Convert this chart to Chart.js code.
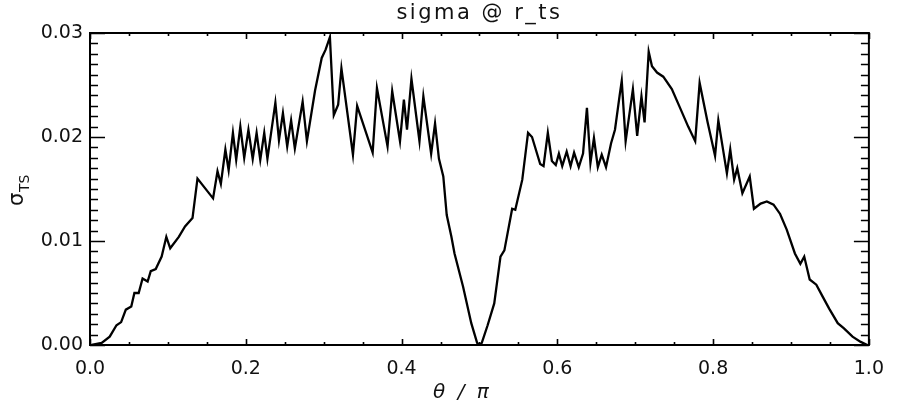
<!DOCTYPE html>
<html>
<head>
<meta charset="utf-8">
<script src="https://cdn.jsdelivr.net/npm/chart.js@4.4.1/dist/chart.umd.min.js"></script>
<style>
  html, body { margin: 0; padding: 0; background: #fff; }
  #wrap { width: 897px; height: 408px; }
</style>
</head>
<body>
<div id="wrap"><canvas id="sigmaChart" width="897" height="408"></canvas></div>
<script>
// theta / pi
const thetaPi = [
  0.002, 0.015, 0.0253, 0.034, 0.040, 0.046, 0.053, 0.057, 0.0625, 0.0675,
  0.074, 0.078, 0.0844, 0.092, 0.098, 0.103, 0.114, 0.122, 0.1316, 0.138,
  0.158, 0.1637, 0.168, 0.1738, 0.178, 0.1835, 0.1877, 0.193, 0.198, 0.2034,
  0.2089, 0.2139, 0.2186, 0.2237, 0.2278, 0.238, 0.2426, 0.2477, 0.2532, 0.2582,
  0.263, 0.273, 0.2785, 0.289, 0.2975, 0.3025, 0.308, 0.313, 0.3186, 0.3228,
  0.3376, 0.343, 0.3629, 0.3684, 0.382, 0.388, 0.398, 0.403, 0.407, 0.4127,
  0.423, 0.428, 0.438, 0.443, 0.448, 0.4536, 0.458, 0.464, 0.468, 0.479,
  0.4895, 0.497, 0.500, 0.503, 0.5105, 0.519, 0.527, 0.532, 0.542, 0.546,
  0.555, 0.5624, 0.5675, 0.578, 0.5823, 0.5878, 0.593, 0.598, 0.602, 0.6063,
  0.612, 0.617, 0.6215, 0.6275, 0.633, 0.638, 0.6425, 0.647, 0.652, 0.657,
  0.6625, 0.669, 0.674, 0.680, 0.6827, 0.6877, 0.697, 0.7025, 0.708, 0.712,
  0.7173, 0.7215, 0.728, 0.736, 0.747, 0.757, 0.768, 0.777, 0.7827, 0.793,
  0.8025, 0.8067, 0.8177, 0.822, 0.827, 0.831, 0.8376, 0.847, 0.8524, 0.861,
  0.869, 0.8776, 0.886, 0.8945, 0.905, 0.912, 0.917, 0.924, 0.9325, 0.941,
  0.949, 0.960, 0.968, 0.979, 0.9895, 0.998
];

// sigma_TS
const sigmaTs = [
  0.0000, 0.0002, 0.0008, 0.0019, 0.0022, 0.0034, 0.0037, 0.0050, 0.0050, 0.0064,
  0.0061, 0.0071, 0.0073, 0.0085, 0.0104, 0.0093, 0.0104, 0.0114, 0.0122, 0.0160,
  0.0141, 0.0167, 0.0155, 0.0188, 0.0168, 0.0204, 0.0178, 0.0210, 0.0180, 0.0207,
  0.0179, 0.0204, 0.0178, 0.0204, 0.0179, 0.0233, 0.0197, 0.0223, 0.0191, 0.0216,
  0.0189, 0.0234, 0.0196, 0.0245, 0.0276, 0.0284, 0.0296, 0.0221, 0.0231, 0.0266,
  0.0183, 0.0230, 0.0185, 0.0247, 0.0191, 0.0244, 0.0196, 0.0236, 0.0207, 0.0256,
  0.0196, 0.0239, 0.0184, 0.0213, 0.0179, 0.0162, 0.0125, 0.0104, 0.0088, 0.0056,
  0.0021, 0.0002, 0.0000, 0.0002, 0.0019, 0.0040, 0.0085, 0.0091, 0.0131, 0.0130,
  0.0159, 0.0204, 0.0200, 0.0174, 0.0172, 0.0204, 0.0177, 0.0173, 0.0184, 0.0172,
  0.0186, 0.0172, 0.0185, 0.0171, 0.0184, 0.0228, 0.0175, 0.0199, 0.0171, 0.0183,
  0.0171, 0.0194, 0.0207, 0.0240, 0.0254, 0.0196, 0.0246, 0.0201, 0.0239, 0.0214,
  0.0282, 0.0268, 0.0262, 0.0258, 0.0246, 0.0229, 0.0210, 0.0196, 0.0252, 0.0214,
  0.0182, 0.0216, 0.0165, 0.0188, 0.0159, 0.0170, 0.0146, 0.0162, 0.0131, 0.0136,
  0.0138, 0.0135, 0.0126, 0.0111, 0.0088, 0.0078, 0.0085, 0.0063, 0.0058, 0.0046,
  0.0035, 0.0021, 0.0016, 0.0008, 0.0003, 0.0000
];

const xTicks = [0.0, 0.2, 0.4, 0.6, 0.8, 1.0];
const yTicks = [0.00, 0.01, 0.02, 0.03];

const points = thetaPi.map((t, i) => ({ x: t, y: sigmaTs[i] }));

const FONT = '"DejaVu Sans", sans-serif';

// box, inward ticks on all four sides, title and axis labels
const idlFrame = {
  id: 'idlFrame',
  afterDraw(chart) {
    const { ctx, chartArea: a, scales } = chart;
    const xs = scales.x, ys = scales.y;
    ctx.save();
    ctx.strokeStyle = '#000';
    ctx.lineWidth = 2;
    ctx.strokeRect(a.left, a.top, a.right - a.left, a.bottom - a.top);

    ctx.lineWidth = 1.6;
    ctx.beginPath();
    // x ticks every 0.05, major every 0.2
    for (let i = 0; i <= 20; i++) {
      const v = i * 0.05;
      const px = Math.round(xs.getPixelForValue(v)) + 0.5;
      const len = (i % 4 === 0) ? 6 : 3;
      ctx.moveTo(px, a.bottom); ctx.lineTo(px, a.bottom - len);
      ctx.moveTo(px, a.top); ctx.lineTo(px, a.top + len);
    }
    // y ticks every 0.001, major every 0.01
    for (let i = 0; i <= 30; i++) {
      const v = i * 0.001;
      const py = Math.round(ys.getPixelForValue(v)) + 0.5;
      const len = (i % 10 === 0) ? 15 : 8;
      ctx.moveTo(a.left, py); ctx.lineTo(a.left + len, py);
      ctx.moveTo(a.right, py); ctx.lineTo(a.right - len, py);
    }
    ctx.stroke();

    ctx.fillStyle = '#111';
    ctx.textAlign = 'center';
    ctx.textBaseline = 'middle';
    ctx.font = '21px ' + FONT;
    ctx.letterSpacing = '2.5px';
    ctx.fillText('sigma @ r_ts', (a.left + a.right) / 2, 14);

    ctx.font = 'italic 20px ' + FONT;
    ctx.letterSpacing = '3px';
    ctx.fillText('\u03b8 / \u03c0', (a.left + a.right) / 2 - 17, 393);
    ctx.letterSpacing = '0px';

    // sigma_TS, rotated
    ctx.translate(21, (a.top + a.bottom) / 2);
    ctx.rotate(-Math.PI / 2);
    ctx.textAlign = 'left';
    ctx.font = '21px ' + FONT;
    ctx.fillText('\u03c3', -17, -3);
    ctx.font = '14px ' + FONT;
    ctx.fillText('TS', -3, 4);
    ctx.restore();
  }
};

new Chart(document.getElementById('sigmaChart'), {
  type: 'scatter',
  data: {
    datasets: [{
      data: points,
      showLine: true,
      borderColor: '#000',
      borderWidth: 2.3,
      pointRadius: 0,
      tension: 0,
      fill: false
    }]
  },
  options: {
    responsive: false,
    animation: false,
    layout: { padding: { top: 33, right: 17, left: 0, bottom: 0 } },
    plugins: {
      legend: { display: false },
      tooltip: { enabled: false },
      title: { display: false }
    },
    scales: {
      x: {
        type: 'linear',
        min: 0,
        max: 1,
        afterFit(scale) { scale.height = 63; },
        afterBuildTicks(scale) { scale.ticks = xTicks.map(v => ({ value: v })); },
        grid: { display: false, drawTicks: false },
        border: { display: false },
        ticks: {
          padding: 13,
          color: '#111',
          font: { family: FONT, size: 19 },
          callback: v => Number(v).toFixed(1)
        }
      },
      y: {
        type: 'linear',
        min: 0,
        max: 0.03,
        afterFit(scale) { scale.width = 90; },
        afterBuildTicks(scale) { scale.ticks = yTicks.map(v => ({ value: v })); },
        grid: { display: false, drawTicks: false },
        border: { display: false },
        ticks: {
          padding: 7,
          color: '#111',
          font: { family: FONT, size: 19 },
          callback: v => Number(v).toFixed(2)
        }
      }
    }
  },
  plugins: [idlFrame]
});
</script>
</body>
</html>
